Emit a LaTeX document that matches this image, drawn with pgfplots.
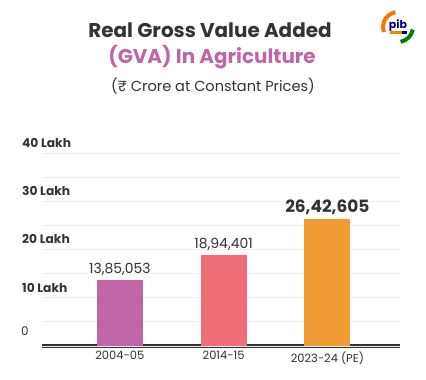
\documentclass[border=0pt]{standalone}
\usepackage{pgfplots}
\pgfplotsset{compat=1.18}
\usepackage{fontspec}
\setmainfont{Poppins}
\definecolor{titlegray}{HTML}{333333}
\definecolor{pinktitle}{HTML}{C066A8}
\definecolor{barA}{HTML}{C066A8}
\definecolor{barB}{HTML}{F06D77}
\definecolor{barC}{HTML}{F09B33}
\definecolor{gridc}{HTML}{EEEEEE}
\definecolor{textg}{HTML}{333333}
\begin{document}
\begin{tikzpicture}
\useasboundingbox (0,0) rectangle (426bp,380bp);
\fill[white] (0,0) rectangle (426bp,380bp);
% titles
\node[font=\fontsize{20}{22}\selectfont\bfseries, text=titlegray] at (210bp,350bp) {Real Gross Value Added};
\node[font=\fontsize{20}{22}\selectfont\bfseries, text=pinktitle] at (212bp,323bp) {(GVA) In Agriculture};
\node[font=\fontsize{14.6}{16}\selectfont, text=textg] at (213bp,294bp) {(₹ Crore at Constant Prices)};
% logo
\begin{scope}[shift={(398bp,353bp)}]
\fill[white] (0,0) circle (17bp);
\draw[orange!90!red, line width=4bp] (100:15bp) arc (100:200:15bp);
\draw[green!50!black, line width=4bp] (-10:15bp) arc (-10:-80:15bp);
\node[font=\fontsize{11}{12}\selectfont\bfseries, text=blue!50!black] at (0,1bp) {pib};
\fill[orange] (-8bp,-7bp) rectangle (4bp,-4bp);
\fill[blue!50!black] (4bp,-7bp) rectangle (9bp,-4bp);
\end{scope}
\begin{axis}[
  at={(42bp,34bp)}, anchor=south west,
  scale only axis,
  width=358bp, height=192bp,
  xmin=-0.75, xmax=2.7,
  ymin=0, ymax=40,
  axis x line*=bottom, axis y line*=left,
  x axis line style={draw=textg, line width=3bp},
  y axis line style={draw=none},
  xtick={0,1,2},
  xticklabels={2004-05,2014-15,2023-24 (PE)},
  xticklabel style={font=\fontsize{11.5}{12}\selectfont, text=textg, yshift=-2bp},
  major tick length=0pt, minor tick length=0pt,
  ytick={10,20,30,40},
  yticklabels={10 Lakh,20 Lakh,30 Lakh,40 Lakh},
  yticklabel style={font=\fontsize{12.3}{13}\selectfont\bfseries, text=textg, anchor=base west, inner sep=0pt, xshift=-20bp, yshift=6bp},
  extra y ticks={0},
  extra y tick labels={0},
  extra y tick style={yticklabel style={font=\fontsize{12}{13}\selectfont\mdseries, text=textg, anchor=base west, inner sep=0pt, xshift=-1bp, yshift=5bp}},
  minor ytick={5,15,25,35},
  ymajorgrids, yminorgrids,
  major grid style={draw=gridc, line width=1bp},
  minor grid style={draw=gridc, line width=1bp},
  clip=false,
  nodes near coords,
  point meta=explicit symbolic,
]
\addplot[ybar, bar width=46bp, fill=barA, draw=none,
  nodes near coords style={font=\fontsize{14}{15}\selectfont, text=textg, yshift=1bp}]
  coordinates {(0,13.85053) [13,85,053]};
\addplot[ybar, bar width=46bp, fill=barB, draw=none,
  nodes near coords style={font=\fontsize{14}{15}\selectfont, text=textg, yshift=1bp}]
  coordinates {(1,18.94401) [18,94,401]};
\addplot[ybar, bar width=46bp, fill=barC, draw=none,
  nodes near coords style={font=\fontsize{17}{18}\selectfont\bfseries, text=textg, yshift=1bp}]
  coordinates {(2,26.42605) [26,42,605]};
\end{axis}
\end{tikzpicture}
\end{document}
